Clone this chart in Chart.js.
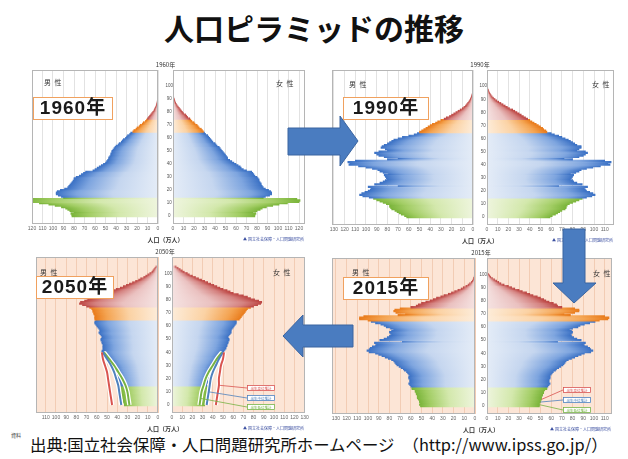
<!DOCTYPE html>
<html lang="ja">
<head>
<meta charset="utf-8">
<script src="https://cdn.jsdelivr.net/npm/chart.js"></script>
<style>
html, body { margin: 0; padding: 0; background: #fff; }
#page { position: relative; width: 628px; height: 459px; overflow: hidden; font-family: "Noto Sans CJK JP", "Noto Sans", sans-serif; }
.abs { position: absolute; white-space: nowrap; }
canvas { position: absolute; }
.title { left: 0; width: 628px; top: 5px; text-align: center; font-size: 30px; font-weight: 700; color: #111; }
.sub { font-size: 6px; color: #333; transform: translateX(-50%); }
.sex { font-size: 7px; color: #333; letter-spacing: 1px; }
.year { border: 1px solid #f0a15f; background: #fff; font: bold 19px "Liberation Sans", "Noto Sans CJK JP", sans-serif; color: #1a1a1a; text-align: center; line-height: 20px; letter-spacing: 1px; z-index: 5; }
.unit { font-size: 6px; font-weight: 700; color: #333; transform: translateX(-50%); }
.logo { font-size: 4px; color: #334; }
.foot { left: 30px; top: 432px; font-size: 16.4px; color: #111; }
.note { left: 11px; top: 431px; font-size: 5px; color: #444; }
svg { position: absolute; left: 0; top: 0; z-index: 6; }
</style>
</head>
<body>
<div id="page">
  <div class="abs title">人口ピラミッドの推移</div>
  <div class="abs note">資料</div>
  <div class="abs foot">出典:国立社会保障・人口問題研究所ホームページ　（http://www.ipss.go.jp/）</div>
  <svg width="628" height="459">
    <polygon points="288,128 340,128 340,116 358,141 340,166 340,155 288,155" fill="#4a7cc0" stroke="#3a64a0" stroke-width="1"/>
    <polygon points="563,229 585,229 585,283 596,283 574,303 553,283 563,283" fill="#4a7cc0" stroke="#3a64a0" stroke-width="1"/>
    <polygon points="353,325 303,325 303,315 283,336 303,357 303,347 353,347" fill="#4a7cc0" stroke="#3a64a0" stroke-width="1"/>
  </svg>
</div>
<script>
// population per single year of age (万人), index = age
const m1960 = [
  82, 82, 83, 80, 84, 86, 88, 92, 98, 104,
  113, 126, 127, 124, 90, 92, 95, 97, 97, 96,
  93, 89, 86, 85, 84, 83, 82, 81, 80, 80,
  78, 75, 73, 71, 69, 62, 60, 58, 56, 54,
  52, 50, 49, 48, 47, 47, 46, 45, 45, 44,
  44, 43, 42, 41, 40, 38, 37, 35, 34, 33,
  31, 30, 29, 27, 26, 24, 23, 21, 20, 18,
  17, 15, 14, 12, 11, 10, 9, 8, 7, 6,
  5, 4, 3.4, 2.8, 2.2, 1.7, 1.3, 1, 0.8, 0.6,
  0.4, 0.3, 0.2, 0.15, 0.1, 0.07, 0.05, 0.03, 0.02, 0.01, 0.01
];
const f1960 = [
  78, 78, 79, 76, 80, 83, 85, 89, 95, 101,
  109, 120, 121, 118, 86, 88, 92, 94, 94, 93,
  91, 88, 86, 85, 84, 84, 83, 82, 82, 81,
  80, 78, 77, 76, 75, 70, 67, 65, 64, 62,
  60, 58, 56, 54, 52, 52, 51, 50, 49, 48,
  47, 46, 45, 44, 42, 41, 40, 38, 37, 36,
  35, 34, 33, 31, 30, 29, 28, 27, 25, 24,
  23, 21, 20, 18, 17, 16, 14, 13, 12, 10,
  9, 8, 7, 6, 5, 4, 3.2, 2.5, 2, 1.5,
  1.1, 0.8, 0.6, 0.4, 0.3, 0.2, 0.15, 0.1, 0.07, 0.05, 0.03
];
const m1990 = [
  62, 64, 67, 69, 71, 73, 76, 77, 78, 78,
  81, 84, 87, 90, 93, 97, 103, 106, 104, 101,
  98, 96, 95, 98, 70, 92, 87, 84, 82, 80,
  81, 82, 83, 79, 84, 87, 89, 94, 100, 107,
  116, 115, 117, 110, 80, 70, 83, 88, 90, 92,
  88, 80, 82, 86, 85, 83, 80, 78, 76, 74,
  70, 66, 60, 55, 52, 50, 48, 46, 44, 42,
  40, 38, 35, 33, 30, 27, 25, 22, 20, 18,
  16, 14, 12, 10, 8.5, 7, 6, 5, 4, 3.2,
  2.5, 2, 1.5, 1.1, 0.8, 0.6, 0.4, 0.3, 0.2, 0.1, 0.1
];
const f1990 = [
  59, 61, 64, 66, 68, 70, 73, 74, 74, 75,
  77, 80, 83, 86, 89, 93, 98, 101, 99, 96,
  93, 92, 91, 94, 67, 89, 84, 81, 80, 78,
  79, 80, 81, 78, 83, 86, 88, 93, 99, 106,
  115, 113, 116, 110, 80, 72, 86, 90, 92, 94,
  92, 84, 86, 88, 88, 84, 82, 80, 78, 76,
  73, 70, 67, 63, 60, 56, 55, 53, 52, 50,
  48, 46, 44, 42, 40, 38, 36, 34, 32, 30,
  28, 26, 24, 21, 19, 17, 15, 13, 11, 9,
  7.5, 6, 4.8, 3.8, 3, 2.3, 1.7, 1.2, 0.8, 0.5, 0.3
];
const m2015 = [
  51, 52, 51, 52, 52, 53, 54, 54, 54, 55,
  55, 56, 56, 59, 59, 60, 61, 62, 61, 61,
  61, 62, 62, 61, 62, 63, 64, 66, 67, 69,
  71, 73, 74, 75, 76, 78, 81, 84, 87, 90,
  93, 99, 101, 99, 98, 96, 93, 92, 94, 68,
  89, 85, 82, 80, 78, 79, 80, 78, 76, 79,
  83, 85, 88, 93, 97, 100, 108, 108, 104, 72,
  65, 74, 76, 75, 70, 60, 55, 53, 50, 46,
  42, 39, 36, 32, 29, 25, 22, 19, 16, 13,
  11, 8.5, 6.5, 5, 3.5, 2.5, 1.7, 1.2, 0.8, 0.5, 0.3
];
const f2015 = [
  49, 49, 49, 50, 50, 51, 51, 51, 52, 52,
  53, 53, 54, 56, 56, 57, 58, 59, 58, 58,
  58, 59, 59, 59, 60, 61, 62, 64, 65, 67,
  69, 71, 72, 73, 74, 76, 79, 82, 85, 88,
  91, 97, 99, 97, 96, 94, 91, 90, 92, 66,
  88, 84, 81, 79, 78, 79, 80, 79, 77, 80,
  85, 87, 91, 96, 101, 105, 113, 114, 110, 78,
  72, 82, 86, 86, 82, 70, 66, 65, 62, 58,
  55, 53, 50, 47, 43, 40, 37, 33, 30, 26,
  23, 20, 16, 13, 11, 9, 7, 5, 3.5, 2.5, 1.5
];
const m2050 = [
  33, 33, 34, 34, 34, 35, 35, 35, 35, 36,
  36, 36, 36, 37, 37, 37, 37, 38, 38, 38,
  39, 39, 40, 40, 41, 41, 42, 42, 43, 43,
  44, 45, 46, 47, 48, 50, 51, 52, 53, 54,
  55, 55, 54, 54, 54, 54, 54, 55, 55, 56,
  56, 55, 55, 56, 57, 58, 57, 57, 58, 59,
  60, 61, 62, 62, 61, 62, 62, 62, 62, 63,
  63, 64, 64, 65, 67, 70, 74, 77, 76, 72,
  69, 66, 63, 59, 55, 51, 48, 44, 41, 37,
  34, 31, 28, 25, 22, 19, 17, 14, 12, 10,
  8, 6, 5, 4, 3, 2
];
const f2050 = [
  32, 32, 32, 33, 33, 33, 33, 34, 34, 34,
  34, 35, 35, 35, 35, 34, 34, 35, 35, 35,
  35, 36, 36, 37, 37, 38, 38, 39, 40, 40,
  41, 42, 43, 44, 45, 46, 47, 47, 48, 49,
  50, 51, 52, 53, 53, 54, 54, 55, 55, 56,
  56, 55, 55, 56, 57, 58, 58, 58, 59, 60,
  61, 62, 63, 63, 63, 66, 67, 68, 69, 70,
  71, 72, 73, 74, 77, 80, 84, 87, 88, 85,
  81, 77, 74, 70, 65, 60, 57, 54, 50, 47,
  44, 41, 38, 35, 32, 29, 26, 23, 20, 17,
  15, 12, 10, 8, 6, 4
];

// 2050 birth variants (high / medium / low), every 5 years of age
const variantAges = [0, 5, 10, 15, 20, 25, 30, 35, 40];
const hiM2050 = [45, 46, 47, 48, 49, 50, 52, 54, 55];
const midM2050 = [36, 37, 38, 39, 41, 43, 46, 50, 54];
const lowM2050 = [28, 29, 30, 32, 35, 39, 43, 48, 53];
const hiF2050 = [43, 44, 45, 46, 46, 47, 48, 50, 51];
const midF2050 = [34, 35, 36, 37, 38, 40, 43, 46, 50];
const lowF2050 = [27, 28, 29, 31, 33, 36, 40, 44, 49];
const variantNames = ['出生高位推計', '出生中位推計', '出生低位推計'];

// pale -> light -> mid -> dark, per age band
const BANDS = [
  ['#eef5dd', '#d3e8ac', '#a2cd64', '#7ab43a'],
  ['#e4ecf7', '#c5d6ef', '#7ea5df', '#3c72c5'],
  ['#fdecd9', '#fbd2a4', '#f4a452', '#e97b1b'],
  ['#f5e2e1', '#eac1c0', '#d4817f', '#bd4744']
];
const VAR_COLORS = ['#d9534f', '#4f81bd', '#77b244'];
const bandOf = age => age < 15 ? 0 : age < 65 ? 1 : age < 75 ? 2 : 3;

const barFill = (ctx) => {
  const chart = ctx.chart;
  const xs = chart.scales.x;
  const pt = ctx.raw;
  if (!pt || !xs) return BANDS[1][3];
  const band = BANDS[bandOf(pt.y)];
  const x0 = xs.getPixelForValue(0);
  const x1 = xs.getPixelForValue(pt.x);
  if (!isFinite(x0) || !isFinite(x1) || Math.abs(x1 - x0) < 0.5) return band[3];
  const g = chart.ctx.createLinearGradient(x0, 0, x1, 0);
  g.addColorStop(0, band[0]);
  g.addColorStop(0.45, band[1]);
  g.addColorStop(0.8, band[2]);
  g.addColorStop(1, band[3]);
  return g;
};

const framePlugin = {
  id: 'frame',
  beforeDraw(chart, args, o) {
    if (!o.bg) return;
    const { ctx, chartArea: c } = chart;
    ctx.save();
    ctx.fillStyle = o.bg;
    ctx.fillRect(c.left, c.top, c.width, c.height);
    ctx.restore();
  },
  afterDraw(chart) {
    const { ctx, chartArea: c } = chart;
    ctx.save();
    ctx.strokeStyle = '#b5b5b5';
    ctx.lineWidth = 1;
    ctx.strokeRect(c.left + 0.5, c.top + 0.5, c.width - 1, c.height - 1);
    ctx.restore();
  }
};

const leaderPlugin = {
  id: 'leaders',
  afterDatasetsDraw(chart, args, o) {
    if (!o.items) return;
    const { ctx, chartArea: c, scales } = chart;
    ctx.save();
    o.items.forEach((it) => {
      const bw = 28, bh = 6;
      const bx = c.right - it.dx, by = c.bottom - it.dy;
      const tx = scales.x.getPixelForValue(it.tx);
      const ty = scales.y.getPixelForValue(it.ty);
      ctx.strokeStyle = it.color;
      ctx.lineWidth = 0.8;
      ctx.beginPath();
      ctx.moveTo(bx, by + bh / 2);
      ctx.lineTo(tx, ty);
      ctx.stroke();
      ctx.fillStyle = '#fff';
      ctx.fillRect(bx, by, bw, bh);
      ctx.strokeRect(bx + 0.5, by + 0.5, bw - 1, bh - 1);
      ctx.fillStyle = it.color;
      ctx.font = '3.5px "Noto Sans CJK JP"';
      ctx.textAlign = 'center';
      ctx.textBaseline = 'middle';
      ctx.fillText(it.label, bx + bw / 2, by + bh / 2 + 0.3);
    });
    ctx.restore();
  }
};

const page = document.getElementById('page');

const addText = (cls, text, left, top, extra) => {
  const d = document.createElement('div');
  d.className = 'abs ' + cls;
  d.textContent = text;
  d.style.left = left + 'px';
  d.style.top = top + 'px';
  if (extra) Object.assign(d.style, extra);
  page.appendChild(d);
  return d;
};

const variantLines = (hi, mid, low) => {
  const sets = [];
  [hi, mid, low].forEach((arr, k) => {
    const pts = arr.map((v, i) => ({ x: v, y: variantAges[i] }));
    sets.push({ type: 'line', indexAxis: 'y', data: pts, borderColor: '#ffffff', borderWidth: 4.5,
      pointRadius: 0, tension: 0.4, fill: false, order: 2 });
    sets.push({ type: 'line', indexAxis: 'y', data: pts, borderColor: VAR_COLORS[k], borderWidth: 2,
      pointRadius: 0, tension: 0.4, fill: false, order: 1 });
  });
  return sets;
};

const halfChart = (p, isM) => {
  const values = isM ? p.male : p.female;
  const padL = isM ? 6 : 0, padR = 6, padT = 2, axisH = 11;
  const plotW = isM ? p.sL - p.mL : p.fR - p.sR;
  const yW = isM ? 0 : p.sR - p.sL;
  const cv = document.createElement('canvas');
  cv.width = padL + yW + plotW + padR;
  cv.height = padT + (p.B - p.T) + axisH;
  cv.style.left = (isM ? p.mL - padL : p.sL) + 'px';
  cv.style.top = (p.T - padT) + 'px';
  page.appendChild(cv);

  const datasets = [{
    type: 'bar',
    data: values.map((v, age) => ({ x: v, y: age })),
    backgroundColor: barFill,
    borderWidth: 0,
    barPercentage: 1.3,
    categoryPercentage: 1,
    inflateAmount: 0.3,
    order: 10
  }];
  if (p.variants) {
    const v = isM ? p.variants.m : p.variants.f;
    datasets.push(...variantLines(v[0], v[1], v[2]));
  }
  const gridColor = p.peach ? '#f2ccb4' : '#e2e2e2';

  new Chart(cv, {
    type: 'bar',
    data: { datasets },
    options: {
      responsive: false,
      animation: false,
      events: [],
      indexAxis: 'y',
      layout: { padding: { left: padL, right: padR, top: padT, bottom: 0 } },
      plugins: {
        legend: { display: false },
        tooltip: { enabled: false },
        frame: { bg: p.peach ? '#fce5d6' : null },
        leaders: { items: isM ? null : p.leaders }
      },
      scales: {
        x: {
          type: 'linear', min: 0, max: plotW / p.ppu, reverse: isM,
          ticks: { stepSize: 10, includeBounds: false, autoSkip: false, maxRotation: 0,
            font: { size: 5, family: 'Liberation Sans' }, color: '#666', padding: 2 },
          grid: { color: gridColor, drawTicks: false },
          border: { display: false },
          afterFit: (s) => { s.height = axisH; s.paddingLeft = 0; s.paddingRight = 0; }
        },
        y: {
          type: 'linear', min: -0.7, max: 107, display: !isM,
          ticks: { stepSize: 10, includeBounds: false, crossAlign: 'center', padding: 0,
            callback: (v) => (v <= 100 ? v : ''),
            font: { size: 4.5, family: 'Liberation Sans' }, color: '#555' },
          grid: { display: false, drawTicks: false },
          border: { display: false },
          afterFit: (s) => { s.width = yW; s.paddingTop = 0; s.paddingBottom = 0; }
        }
      }
    },
    plugins: [framePlugin, leaderPlugin]
  });
};

const PANELS = [
  { year: '1960', male: m1960, female: f1960, mL: 32, sL: 158, sR: 173, fR: 305, T: 70, B: 224, ppu: 1.05,
    peach: false, box: [33, 97, 78], sexM: [44, 77], sexF: [276, 78] },
  { year: '1990', male: m1990, female: f1990, mL: 332, sL: 473, sR: 487, fR: 614, T: 70, B: 225, ppu: 1.07,
    peach: false, box: [343, 97, 84], sexM: [349, 79], sexF: [592, 79] },
  { year: '2050', male: m2050, female: f2050, mL: 36, sL: 158, sR: 172, fR: 305, T: 257, B: 413, ppu: 1.02,
    peach: true, box: [36, 276, 76], sexM: [40, 267], sexF: [273, 267],
    variants: { m: [hiM2050, midM2050, lowM2050], f: [hiF2050, midF2050, lowF2050] },
    leaders: [
      { label: variantNames[0], color: VAR_COLORS[0], dx: 58, dy: 28, tx: hiF2050[3], ty: variantAges[3] },
      { label: variantNames[1], color: VAR_COLORS[1], dx: 58, dy: 18, tx: midF2050[2], ty: variantAges[2] },
      { label: variantNames[2], color: VAR_COLORS[2], dx: 58, dy: 9, tx: lowF2050[1], ty: variantAges[1] }
    ] },
  { year: '2015', male: m2015, female: f2015, mL: 332, sL: 475, sR: 487, fR: 612, T: 258, B: 414, ppu: 1.07,
    peach: true, box: [343, 277, 84], sexM: [352, 267], sexF: [593, 268],
    leaders: [
      { label: variantNames[0], color: VAR_COLORS[0], dx: 49, dy: 27, tx: f2015[5], ty: 5 },
      { label: variantNames[1], color: VAR_COLORS[1], dx: 49, dy: 17, tx: f2015[3], ty: 3 },
      { label: variantNames[2], color: VAR_COLORS[2], dx: 49, dy: 7, tx: f2015[1], ty: 1 }
    ] }
];

PANELS.forEach((p) => {
  halfChart(p, true);
  halfChart(p, false);
  const mid = (p.sL + p.sR) / 2;
  addText('sub', p.year + '年', mid, p.T - 10);
  addText('unit', '人口（万人）', mid, p.B + 11);
  addText('sex', '男 性', p.sexM[0], p.sexM[1]);
  addText('sex', '女 性', p.sexF[0], p.sexF[1]);
  addText('year', p.year + '年', p.box[0], p.box[1], { width: p.box[2] + 'px', height: '21px' });
  // small institute mark under the female axis
  const lg = addText('logo', '▲ 国立社会保障・人口問題研究所', p.fR - 62, p.B + 12);
  lg.style.color = '#3b4fa0';
});
</script>
</body>
</html>
